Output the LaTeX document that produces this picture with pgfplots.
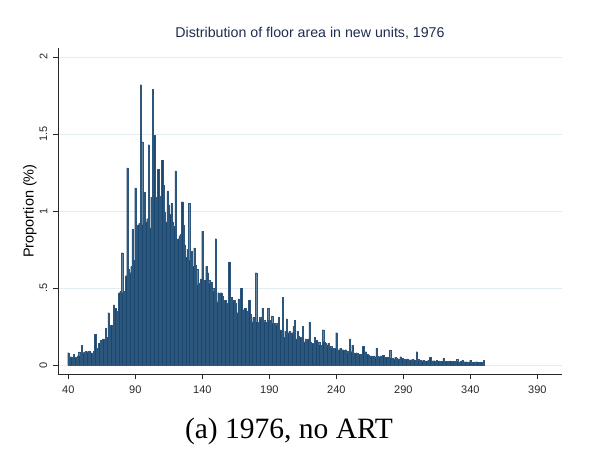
\documentclass[border=0pt]{standalone}
\usepackage{pgfplots}
\usepackage{pgfplotstable}
\pgfplotsset{compat=1.18}
\usepackage{fontspec}
\setsansfont{Liberation Sans}
\newfontfamily\capfont{Liberation Serif}
\definecolor{barnavy}{RGB}{26,71,111}
\definecolor{gridc}{RGB}{226,236,241}
\definecolor{titlec}{RGB}{30,45,80}
\definecolor{axc}{RGB}{40,40,40}
\pgfplotstableread{
x y
40 0.08
41 0.05
42 0.055
43 0.05
44 0.07
45 0.05
46 0.045
47 0.06
48 0.085
49 0.06
50 0.13
51 0.08
52 0.085
53 0.09
54 0.085
55 0.09
56 0.09
57 0.08
58 0.075
59 0.09
60 0.2
61 0.1
62 0.11
63 0.14
64 0.16
65 0.14
66 0.17
67 0.16
68 0.24
69 0.18
70 0.34
71 0.22
72 0.26
73 0.25
74 0.39
75 0.37
76 0.27
77 0.35
78 0.47
79 0.48
80 0.73
81 0.47
82 0.48
83 0.58
84 1.28
85 0.62
86 0.6
87 0.64
88 0.88
89 0.68
90 1.15
91 0.75
92 0.91
93 0.92
94 1.82
95 1.45
96 0.91
97 1.12
98 0.93
99 0.95
100 1.43
101 0.89
102 1.09
103 1.79
104 1.49
105 1.09
106 1.08
107 1.27
108 1.1
109 1.05
110 1.33
111 1.17
112 0.99
113 0.93
114 1.13
115 1.04
116 0.98
117 1.05
118 0.93
119 0.9
120 1.26
121 0.81
122 0.82
123 0.84
124 0.85
125 1.06
126 0.91
127 0.78
128 0.7
129 0.75
130 1.05
131 0.68
132 0.74
133 0.64
134 0.76
135 0.65
136 0.62
137 0.52
138 0.53
139 0.56
140 0.87
141 0.53
142 0.55
143 0.64
144 0.6
145 0.55
146 0.53
147 0.54
148 0.5
149 0.48
150 0.82
151 0.41
152 0.47
153 0.46
154 0.47
155 0.45
156 0.42
157 0.42
158 0.37
159 0.4
160 0.67
161 0.37
162 0.44
163 0.42
164 0.42
165 0.4
166 0.34
167 0.43
168 0.34
169 0.5
170 0.34
171 0.36
172 0.37
173 0.32
174 0.35
175 0.42
176 0.33
177 0.28
178 0.31
179 0.3
180 0.6
181 0.28
182 0.27
183 0.31
184 0.3
185 0.37
186 0.29
187 0.28
188 0.24
189 0.37
190 0.29
191 0.28
192 0.32
193 0.27
194 0.26
195 0.27
196 0.26
197 0.31
198 0.23
199 0.22
200 0.44
201 0.18
202 0.22
203 0.30
204 0.21
205 0.22
206 0.2
207 0.21
208 0.25
209 0.29
210 0.17
211 0.22
212 0.19
213 0.18
214 0.18
215 0.25
216 0.15
217 0.17
218 0.16
219 0.17
220 0.28
221 0.15
222 0.14
223 0.13
224 0.18
225 0.16
226 0.14
227 0.15
228 0.13
229 0.13
230 0.23
231 0.15
232 0.14
233 0.13
234 0.14
235 0.12
236 0.12
237 0.11
238 0.1
239 0.11
240 0.21
241 0.09
242 0.1
243 0.11
244 0.1
245 0.1
246 0.09
247 0.1
248 0.09
249 0.08
250 0.17
251 0.087
252 0.13
253 0.08
254 0.076
255 0.08
256 0.075
257 0.07
258 0.065
259 0.07
260 0.12
261 0.07
262 0.087
263 0.07
264 0.065
265 0.06
266 0.06
267 0.05
268 0.06
269 0.055
270 0.11
271 0.06
272 0.055
273 0.06
274 0.05
275 0.065
276 0.045
277 0.05
278 0.045
279 0.05
280 0.097
281 0.045
282 0.045
283 0.04
284 0.05
285 0.045
286 0.04
287 0.04
288 0.055
289 0.045
290 0.04
291 0.035
292 0.037
293 0.04
294 0.035
295 0.033
296 0.035
297 0.037
298 0.035
299 0.03
300 0.087
301 0.037
302 0.028
303 0.03
304 0.028
305 0.03
306 0.028
307 0.026
308 0.028
309 0.03
310 0.05
311 0.028
312 0.027
313 0.028
314 0.026
315 0.03
316 0.025
317 0.027
318 0.024
319 0.025
320 0.043
321 0.024
322 0.025
323 0.022
324 0.024
325 0.027
326 0.023
327 0.024
328 0.022
329 0.023
330 0.037
331 0.022
332 0.021
333 0.023
334 0.03
335 0.022
336 0.021
337 0.022
338 0.02
339 0.021
340 0.032
341 0.02
342 0.019
343 0.021
344 0.02
345 0.022
346 0.019
347 0.018
348 0.02
349 0.019
350 0.032
}\histdata
\begin{document}
\begin{tikzpicture}
\useasboundingbox (0,0) rectangle (590pt,462pt);
\begin{axis}[
  at={(58pt,88pt)}, anchor=south west,
  scale only axis, width=504pt, height=326pt,
  xmin=32.3, xmax=408.4, ymin=-0.058, ymax=2.058,
  axis lines*=left,
  axis line style={-, axc, line width=0.8pt},
  tick style={axc, line width=0.6pt},
  tick align=outside, major tick length=5pt,
  xtick={40,90,...,390},
  ytick={0,0.5,1,1.5,2},
  yticklabels={0,.5,1,1.5,2},
  ymajorgrids, grid style={gridc, line width=0.8pt},
  /pgf/number format/assume math mode=true,
  ticklabel style={font=\sffamily\fontsize{11}{13}\selectfont, text=axc},
  yticklabel style={rotate=90, anchor=south, inner ysep=5.5pt},
  xticklabel style={anchor=north, inner ysep=7pt},
  ylabel={Proportion (\%)},
  ylabel style={font=\sffamily\fontsize{14.5}{16}\selectfont, text=black, at={(axis description cs:-0.0556,0.5)}, anchor=center},
  title={Distribution of floor area in new units, 1976},
  title style={font=\sffamily\fontsize{14.2}{16}\selectfont, text=titlec, at={(axis description cs:0.5,1.0276)}, anchor=center},
  clip=false,
]
\addplot[ybar, bar width=1, fill=barnavy, draw=barnavy!92!white, line width=0.15pt] table[x=x,y=y] {\histdata};
\end{axis}
\node[font=\capfont\fontsize{29.5}{32}\selectfont] at (289pt,31pt) {(a) 1976, no ART};
\end{tikzpicture}
\end{document}
